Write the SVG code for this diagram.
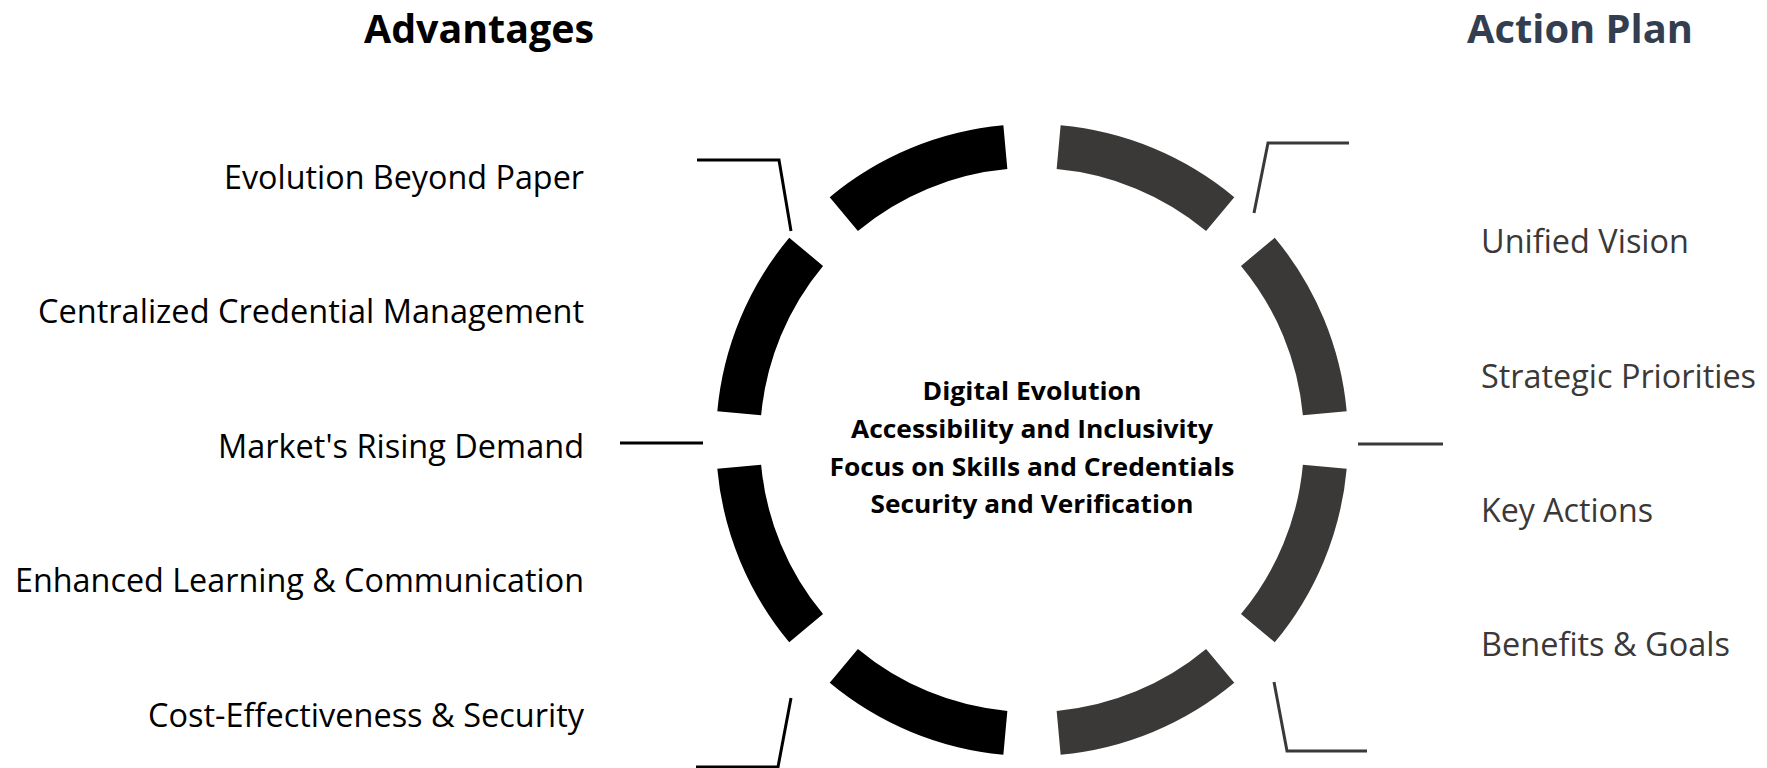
<svg xmlns="http://www.w3.org/2000/svg" width="1767" height="768" viewBox="0 0 1767 768">
<style>
.segL{fill:#000000}
.segR{fill:#3B3838}
.conL{fill:none;stroke:#000000;stroke-width:3}
.conR{fill:none;stroke:#3B3838;stroke-width:3}
.title{font-family:"Open Sans","Liberation Sans",sans-serif;font-weight:bold;font-size:40px}
.lab{font-family:"Open Sans","Liberation Sans",sans-serif;font-size:32.5px}
.labL{fill:#000000;text-anchor:end}
.labR{fill:#3B3838;text-anchor:start}
.center{font-family:"Open Sans","Liberation Sans",sans-serif;font-weight:bold;font-size:25px;fill:#000000;text-anchor:middle}
</style>
<rect x="0" y="0" width="1767" height="768" fill="#ffffff"/>
<g id="ring">
<path id="seg-r1" class="segR" d="M1060.64,125.30 A316,316 0 0 1 1234.27,197.22 L1206.11,231.03 A272,272 0 0 0 1056.65,169.12 Z"/>
<path id="seg-r2" class="segR" d="M1274.78,237.73 A316,316 0 0 1 1346.70,411.36 L1302.88,415.35 A272,272 0 0 0 1240.97,265.89 Z"/>
<path id="seg-r3" class="segR" d="M1346.70,468.64 A316,316 0 0 1 1274.78,642.27 L1240.97,614.11 A272,272 0 0 0 1302.88,464.65 Z"/>
<path id="seg-r4" class="segR" d="M1234.27,682.78 A316,316 0 0 1 1060.64,754.70 L1056.65,710.88 A272,272 0 0 0 1206.11,648.97 Z"/>
<path id="seg-l4" class="segL" d="M1003.36,754.70 A316,316 0 0 1 829.73,682.78 L857.89,648.97 A272,272 0 0 0 1007.35,710.88 Z"/>
<path id="seg-l3" class="segL" d="M789.22,642.27 A316,316 0 0 1 717.30,468.64 L761.12,464.65 A272,272 0 0 0 823.03,614.11 Z"/>
<path id="seg-l2" class="segL" d="M717.30,411.36 A316,316 0 0 1 789.22,237.73 L823.03,265.89 A272,272 0 0 0 761.12,415.35 Z"/>
<path id="seg-l1" class="segL" d="M829.73,197.22 A316,316 0 0 1 1003.36,125.30 L1007.35,169.12 A272,272 0 0 0 857.89,231.03 Z"/>
</g>
<g id="connectors">
<polyline class="conL" points="697,160 779,160 791,231"/>
<line class="conL" x1="620" y1="443" x2="703" y2="443"/>
<polyline class="conL" points="791,698 778,767 696,767"/>
<polyline class="conR" points="1349,143 1268,143 1254,213"/>
<line class="conR" x1="1358" y1="444" x2="1443" y2="444"/>
<polyline class="conR" points="1274,682 1287,751 1367,751"/>
</g>
<g id="title-advantages"><text class="title" x="479" y="43" text-anchor="middle" fill="#000000" textLength="230" lengthAdjust="spacingAndGlyphs">Advantages</text></g>
<g id="title-action-plan"><text class="title" x="1467" y="43" fill="#333F50" textLength="226" lengthAdjust="spacingAndGlyphs">Action Plan</text></g>
<g id="center-text">
<text class="center" x="1032" y="400" textLength="219" lengthAdjust="spacingAndGlyphs">Digital Evolution</text>
<text class="center" x="1032" y="438" textLength="362" lengthAdjust="spacingAndGlyphs">Accessibility and Inclusivity</text>
<text class="center" x="1032" y="476" textLength="405" lengthAdjust="spacingAndGlyphs">Focus on Skills and Credentials</text>
<text class="center" x="1032" y="513" textLength="323" lengthAdjust="spacingAndGlyphs">Security and Verification</text>
</g>
<g id="adv-1"><text class="lab labL" x="584" y="189" textLength="360" lengthAdjust="spacingAndGlyphs">Evolution Beyond Paper</text></g>
<g id="adv-2"><text class="lab labL" x="584" y="323" textLength="546" lengthAdjust="spacingAndGlyphs">Centralized Credential Management</text></g>
<g id="adv-3"><text class="lab labL" x="584" y="458" textLength="366" lengthAdjust="spacingAndGlyphs">Market's Rising Demand</text></g>
<g id="adv-4"><text class="lab labL" x="584" y="592" textLength="569" lengthAdjust="spacingAndGlyphs">Enhanced Learning &amp; Communication</text></g>
<g id="adv-5"><text class="lab labL" x="584" y="727" textLength="436" lengthAdjust="spacingAndGlyphs">Cost-Effectiveness &amp; Security</text></g>
<g id="plan-1"><text class="lab labR" x="1481" y="253" textLength="208" lengthAdjust="spacingAndGlyphs">Unified Vision</text></g>
<g id="plan-2"><text class="lab labR" x="1481" y="388" textLength="275" lengthAdjust="spacingAndGlyphs">Strategic Priorities</text></g>
<g id="plan-3"><text class="lab labR" x="1481" y="522" textLength="172" lengthAdjust="spacingAndGlyphs">Key Actions</text></g>
<g id="plan-4"><text class="lab labR" x="1481" y="656" textLength="249" lengthAdjust="spacingAndGlyphs">Benefits &amp; Goals</text></g>
</svg>
